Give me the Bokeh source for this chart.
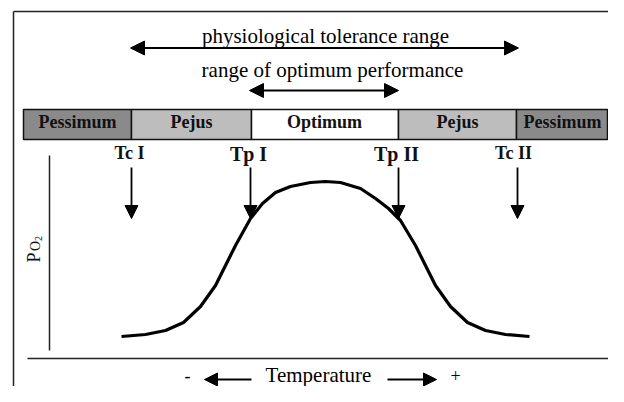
from bokeh.plotting import figure
from bokeh.models import Range1d, Arrow, NormalHead, ColumnDataSource
from bokeh.core.properties import value
from bokeh.embed import file_html
from bokeh.resources import INLINE

# ---- data (diagram coordinates) ----
zone_names = ["Pessimum", "Pejus", "Optimum", "Pejus", "Pessimum"]
zone_left = [23, 131, 251, 398, 516]
zone_right = [131, 251, 398, 516, 607]
zone_label_x = [77, 191, 324, 457, 562]
zone_colors = ["#8a8a8a", "#bdbdbd", "#ffffff", "#bdbdbd", "#8a8a8a"]

threshold_labels = ["Tc I", "Tp I", "Tp II", "Tc II"]
threshold_temps = [131, 250, 398, 517]
threshold_label_x = [129, 248, 396, 513]

curve_temp = [121, 145, 165, 183, 200, 215, 225, 235, 250, 262, 275, 290, 310,
              325, 340, 360, 375, 388, 400, 415, 425, 435, 450, 467, 485, 505, 529]
curve_po2 = [336, 334, 330, 322, 306, 285, 265, 245, 218, 203, 192, 186, 182,
             181, 182, 188, 198, 208, 220, 245, 265, 285, 306, 322, 330, 334, 336]

FONT = value("Liberation Serif")
K = 0.38  # baseline correction factor (fraction of font size)

p = figure(width=608, height=386, x_range=Range1d(0, 608), y_range=Range1d(386, 0),
           output_backend="svg", toolbar_location=None, min_border=0)
p.axis.visible = False
p.grid.visible = False
p.outline_line_color = None
p.background_fill_color = "white"
p.border_fill_color = "white"

# frame (top and left)
p.line(x=[13, 608], y=[11, 11], line_color="#222222", line_width=1.5)
p.line(x=[13, 13], y=[11, 386], line_color="#222222", line_width=1.5)


def head(size):
    return NormalHead(size=size, fill_color="black", line_color="black", line_width=1)


def label(xs, ys, texts, fs, bold=False, align="center", angle=0.0, color="black"):
    if angle:
        xs = [x - K * fs for x in xs]
    else:
        ys = [y - K * fs for y in ys]
    p.text(x=xs, y=ys, text=texts, angle=angle, text_font=FONT,
           text_font_size=f"{fs}px", text_font_style="bold" if bold else "normal",
           text_align=align, text_baseline="alphabetic", text_color=color)


# top range arrows
for x0, x1, y in [(130, 518, 47.5), (249, 398, 90)]:
    p.add_layout(Arrow(start=head(14), end=head(14), x_start=x0, y_start=y,
                       x_end=x1, y_end=y, line_color="black", line_width=2.2))

label([325, 332], [43, 77],
      ["physiological tolerance range", "range of optimum performance"], 21)

# zone band
src = ColumnDataSource(dict(left=zone_left, right=zone_right, color=zone_colors))
p.quad(left="left", right="right", top=109, bottom=139, fill_color="color",
       line_color="#111111", line_width=1.5, source=src)
label(zone_label_x, [128.5] * len(zone_names), zone_names, 18, bold=True, color="#111111")

# threshold labels + arrows
for lab, t, lx in zip(threshold_labels, threshold_temps, threshold_label_x):
    is_tp = lab.startswith("Tp")
    label([lx], [161 if is_tp else 159], [lab], 20 if is_tp else 18, bold=True,
          color="#111111")
    p.add_layout(Arrow(end=head(13), x_start=t, y_start=167, x_end=t, y_end=218,
                       line_color="black", line_width=1.8))

# performance curve
p.line(x=curve_temp, y=curve_po2, line_color="black", line_width=3.2)

# axes
p.line(x=[49, 49], y=[155, 350], line_color="#222222", line_width=1.5)
p.line(x=[27, 608], y=[358, 358], line_color="#222222", line_width=1.5)

# PO2 label (rotated, reading upwards)
label([40], [262], ["P"], 18, align="left", angle=1.5708, color="#111111")
label([40.5], [250.5], ["O"], 14, align="left", angle=1.5708, color="#111111")
label([42], [240.5], ["2"], 10, align="left", angle=1.5708, color="#111111")

# temperature axis label
label([318], [382], ["Temperature"], 21)
label([187, 455], [382, 382], ["-", "+"], 18)
p.add_layout(Arrow(end=head(13), x_start=251, y_start=379, x_end=204, y_end=379,
                   line_color="black", line_width=2))
p.add_layout(Arrow(end=head(13), x_start=387, y_start=379, x_end=436, y_end=379,
                   line_color="black", line_width=2))

open("out.html", "w").write(file_html(p, INLINE))
